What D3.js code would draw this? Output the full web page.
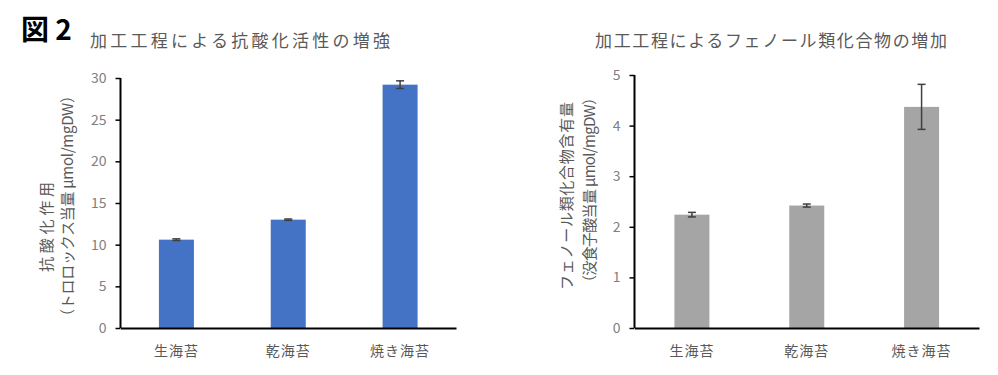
<!DOCTYPE html>
<html>
  <head>
    <meta charset="utf-8">
    <title>図2</title>
    <script src="https://cdn.jsdelivr.net/npm/d3@7"></script>
    <style>
      body { margin: 0; background: #fff; }
      text { font-family: "Noto Sans CJK JP", sans-serif; }
      .tick-label { fill: #7f7f7f; font-size: 14px; }
      .cat-label { fill: #595959; font-size: 14px; letter-spacing: 1px; }
      .title { fill: #595959; font-size: 17px; }
      .y-title { fill: #595959; font-size: 15px; }
    </style>
  </head>
  <body>
    <svg id="chart" width="998" height="375"></svg>
    <script>
    var categories = ["生海苔", "乾海苔", "焼き海苔"];

    var antioxValues = [10.6, 13.0, 29.2];
    var antioxErrors = [0.1, 0.08, 0.46];
    var antioxTicks = [0, 5, 10, 15, 20, 25, 30];

    var phenolValues = [2.24, 2.42, 4.37];
    var phenolErrors = [0.045, 0.03, 0.445];
    var phenolTicks = [0, 1, 2, 3, 4, 5];

    var svg = d3.select("#chart");

    svg.append("text")
      .attr("x", 21)
      .attr("y", 40)
      .style("font-size", "28px")
      .style("font-weight", "bold")
      .attr("fill", "#000")
      .text("図 2");

    function drawChart(opts) {
      var g = svg.append("g");

      var x = d3.scaleBand()
        .domain(categories)
        .range([opts.left, opts.right])
        .paddingInner(0)
        .paddingOuter(0);

      var y = d3.scaleLinear()
        .domain([0, opts.max])
        .range([opts.bottom, opts.top]);

      var barWidth = 35;

      var rows = categories.map(function(c, i) {
        return {cat: c, value: opts.values[i], err: opts.errors[i]};
      });

      g.append("text")
        .attr("class", "title")
        .attr("x", opts.titleX)
        .attr("y", 47)
        .attr("textLength", opts.titleLen)
        .attr("lengthAdjust", "spacing")
        .text(opts.title);

      // y axis title, two rotated lines
      opts.yTitle.forEach(function(t) {
        g.append("text")
          .attr("class", "y-title")
          .attr("transform", "translate(" + t.x + "," + t.cy + ") rotate(-90)")
          .attr("text-anchor", "middle")
          .attr("dy", "0.35em")
          .attr("textLength", t.len)
          .attr("lengthAdjust", "spacing")
          .text(t.text);
      });

      g.append("g")
        .selectAll("rect")
        .data(rows)
        .enter().append("rect")
        .attr("x", function(d) { return x(d.cat) + x.bandwidth() / 2 - barWidth / 2; })
        .attr("y", function(d) { return y(d.value); })
        .attr("width", barWidth)
        .attr("height", function(d) { return y(0) - y(d.value); })
        .attr("fill", opts.color);

      var err = g.append("g")
        .attr("stroke", "#404040")
        .attr("stroke-width", 1.5);

      rows.forEach(function(d) {
        var cx = x(d.cat) + x.bandwidth() / 2;
        var y1 = y(d.value + d.err), y2 = y(d.value - d.err);
        err.append("line").attr("x1", cx).attr("x2", cx).attr("y1", y1).attr("y2", y2);
        err.append("line").attr("x1", cx - 4).attr("x2", cx + 4).attr("y1", y1).attr("y2", y1);
        err.append("line").attr("x1", cx - 4).attr("x2", cx + 4).attr("y1", y2).attr("y2", y2);
      });

      // y axis
      var yAxis = g.append("g")
        .attr("transform", "translate(" + opts.left + ",0)")
        .call(d3.axisLeft(y).tickValues(opts.ticks).tickFormat(d3.format("d"))
          .tickSize(5).tickPadding(9));
      yAxis.select(".domain").attr("stroke", "#000").attr("stroke-width", 2)
        .attr("d", "M0," + opts.top + "V" + opts.bottom);
      yAxis.selectAll(".tick line").attr("stroke", "#000").attr("stroke-width", 1.5);
      yAxis.selectAll(".tick text").attr("class", "tick-label").attr("fill", null);

      // x axis
      var xAxis = g.append("g")
        .attr("transform", "translate(0," + opts.bottom + ")")
        .call(d3.axisBottom(x).tickSize(0).tickPadding(18));
      xAxis.select(".domain").attr("stroke", "#000").attr("stroke-width", 2);
      xAxis.selectAll(".tick text").attr("class", "cat-label").attr("fill", null);
    }

    drawChart({
      left: 120.5, right: 456, top: 78, bottom: 328,
      max: 30, ticks: antioxTicks,
      values: antioxValues, errors: antioxErrors,
      color: "#4472C4",
      title: "加工工程による抗酸化活性の増強", titleX: 90, titleLen: 300,
      yTitle: [
        {text: "抗酸化作用", x: 47, cy: 227, len: 90},
        {text: "（トロロックス当量 μmol/mgDW）", x: 68, cy: 206, len: 236}
      ]
    });

    drawChart({
      left: 634.5, right: 979, top: 75, bottom: 328,
      max: 5, ticks: phenolTicks,
      values: phenolValues, errors: phenolErrors,
      color: "#A5A5A5",
      title: "加工工程によるフェノール類化合物の増加", titleX: 595, titleLen: 352,
      yTitle: [
        {text: "フェノール類化合物含有量", x: 567, cy: 196, len: 188},
        {text: "（没食子酸当量 μmol/mgDW）", x: 590, cy: 190, len: 200}
      ]
    });
    </script>
  </body>
</html>
